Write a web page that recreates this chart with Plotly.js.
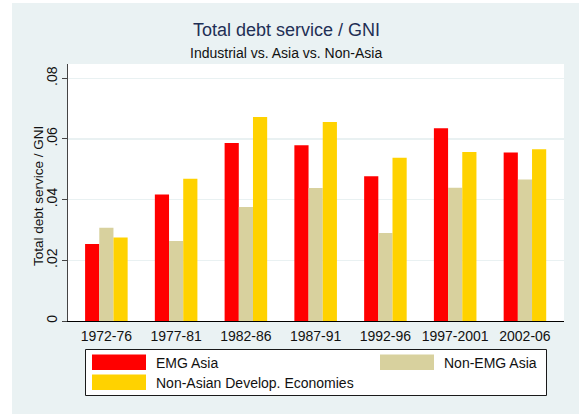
<!DOCTYPE html>
<html>
<head>
<meta charset="utf-8">
<script src="https://cdn.plot.ly/plotly-3.0.1.min.js"></script>
<style>
  html, body { margin: 0; padding: 0; background: #ffffff; }
  #chart { width: 579px; height: 414px; }
</style>
</head>
<body>
<div id="chart"></div>
<script>
// Five-year periods on the category axis
var periods = ["1972-76", "1977-81", "1982-86", "1987-91", "1992-96", "1997-2001", "2002-06"];

// Total debt service as a share of GNI, by country group
var emgAsia     = [0.0254, 0.0417, 0.0587, 0.0579, 0.0477, 0.0635, 0.0555];
var nonEmgAsia  = [0.0307, 0.0264, 0.0376, 0.0438, 0.0290, 0.0439, 0.0466];
var nonAsianDev = [0.0275, 0.0469, 0.0672, 0.0656, 0.0538, 0.0557, 0.0566];

var seriesNames  = ["EMG Asia", "Non-EMG Asia", "Non-Asian Develop. Economies"];
var seriesColors = ["#ff0000", "#d8d19e", "#ffd200"];

var yTickVals = [0, 0.02, 0.04, 0.06, 0.08];
var yTickText = ["0", ".02", ".04", ".06", ".08"];

var FONT = "Liberation Sans, Arial, sans-serif";

// plot area in pixels: x 68..564, y 64..321
var PL = 68, PR = 564, PT = 64, PB = 321;
function px(x) { return (x - PL) / (PR - PL); }
function py(y) { return (PB - y) / (PB - PT); }

var allSeries = [emgAsia, nonEmgAsia, nonAsianDev];
var traces = allSeries.map(function (vals, i) {
  return {
    type: "bar",
    name: seriesNames[i],
    x: periods,
    y: vals,
    marker: { color: seriesColors[i], line: { width: 0 } },
    hoverinfo: "x+y+name"
  };
});

// hand-built legend: framed box with wide colour keys
var legendKeys = [
  { x: 92,  y: 354.5, tx: 154, label: seriesNames[0], color: seriesColors[0] },
  { x: 380, y: 354.5, tx: 442, label: seriesNames[1], color: seriesColors[1] },
  { x: 92,  y: 374.5, tx: 154, label: seriesNames[2], color: seriesColors[2] }
];

var shapes = [
  // white strips around the figure background
  { type: "rect", xref: "paper", yref: "paper", x0: px(0), x1: px(12), y0: py(414), y1: py(0),
    fillcolor: "#ffffff", line: { width: 0 }, layer: "below" },
  { type: "rect", xref: "paper", yref: "paper", x0: px(0), x1: px(579), y0: py(3), y1: py(0),
    fillcolor: "#ffffff", line: { width: 0 }, layer: "below" },
  // legend frame
  { type: "rect", xref: "paper", yref: "paper", x0: px(85.5), x1: px(546.5), y0: py(395.5), y1: py(349.5),
    fillcolor: "#ffffff", line: { color: "#1a1a1a", width: 1 } }
];
var annotations = [
  { text: "Total debt service / GNI", xref: "paper", yref: "paper", x: px(286), y: py(30),
    xanchor: "center", yanchor: "middle", showarrow: false,
    font: { family: FONT, size: 18, color: "#1f2f55" } },
  { text: "Industrial vs. Asia vs. Non-Asia", xref: "paper", yref: "paper", x: px(286), y: py(53),
    xanchor: "center", yanchor: "middle", showarrow: false,
    font: { family: FONT, size: 14, color: "#111111" } },
  // y-axis title
  { text: "Total debt service / GNI", xref: "paper", yref: "paper", x: px(38), y: py(196),
    xanchor: "center", yanchor: "middle", textangle: -90, showarrow: false,
    font: { family: FONT, size: 13.5, color: "#111111" } }
];
legendKeys.forEach(function (k) {
  shapes.push({ type: "rect", xref: "paper", yref: "paper",
    x0: px(k.x), x1: px(k.x + 54), y0: py(k.y + 15.5), y1: py(k.y),
    fillcolor: k.color, line: { width: 0 } });
  annotations.push({ text: k.label, xref: "paper", yref: "paper",
    x: px(k.tx), y: py(k.y + 8), xanchor: "left", yanchor: "middle", showarrow: false,
    font: { family: FONT, size: 14, color: "#111111" } });
});

var layout = {
  width: 579,
  height: 414,
  margin: { l: PL, r: 579 - PR, t: PT, b: 414 - PB, pad: 0 },
  paper_bgcolor: "#eaf2f3",
  plot_bgcolor: "#ffffff",
  showlegend: false,
  barmode: "group",
  bargap: 0.39,
  bargroupgap: 0,
  font: { family: FONT, size: 14, color: "#111111" },
  xaxis: {
    type: "category",
    range: [-0.55, 6.56],
    showline: true,
    linecolor: "#000000",
    linewidth: 1,
    ticks: "",
    showgrid: false,
    zeroline: false,
    ticklabelstandoff: 2,
    tickfont: { family: FONT, size: 14, color: "#111111" },
    fixedrange: true
  },
  yaxis: {
    range: [0, 0.0847],
    tickvals: yTickVals,
    ticktext: yTickText,
    tickangle: -90,
    ticks: "outside",
    ticklen: 5,
    tickcolor: "#444444",
    ticklabelstandoff: -1,
    showline: true,
    linecolor: "#444444",
    linewidth: 1,
    showgrid: true,
    gridcolor: "#e9f1f2",
    gridwidth: 1.5,
    zeroline: false,
    automargin: false,
    tickfont: { family: FONT, size: 14, color: "#111111" },
    fixedrange: true
  },
  shapes: shapes,
  annotations: annotations
};

Plotly.newPlot("chart", traces, layout, { displayModeBar: false, staticPlot: true });
</script>
</body>
</html>
